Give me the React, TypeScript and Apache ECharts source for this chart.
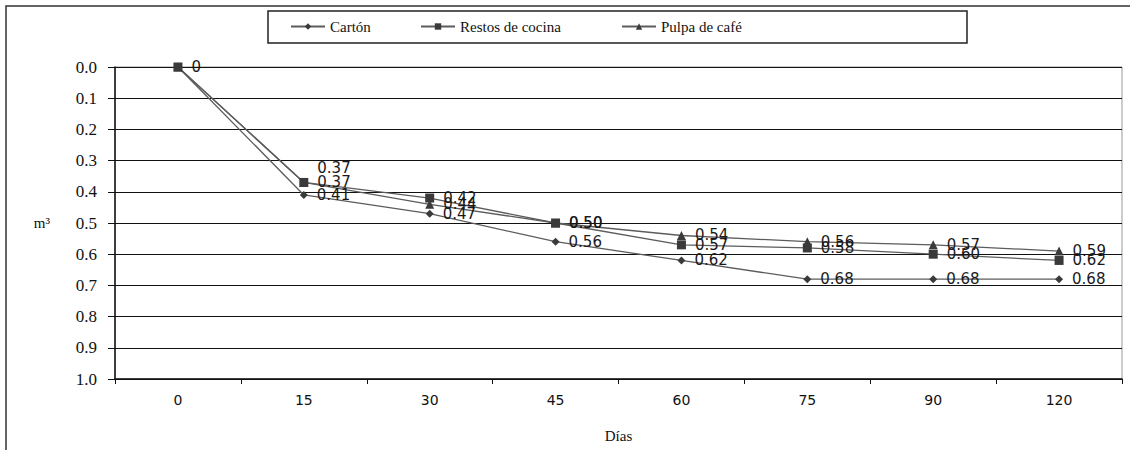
import React, { useEffect, useRef } from "react";
import * as echarts from "echarts";

const days = ["0", "15", "30", "45", "60", "75", "90", "120"];
const carton = [0, 0.41, 0.47, 0.56, 0.62, 0.68, 0.68, 0.68];
const restos = [0, 0.37, 0.42, 0.5, 0.57, 0.58, 0.6, 0.62];
const pulpa = [0, 0.37, 0.44, 0.5, 0.54, 0.56, 0.57, 0.59];
const seriesNames = ["Cartón", "Restos de cocina", "Pulpa de café"];

const fmt = (v: number) => (v === 0 ? "0" : v.toFixed(2));
const SERIF = "serif";
const SANS = "DejaVu Sans";

export default function App() {
  const ref = useRef<HTMLDivElement>(null);
  useEffect(() => {
    if (!ref.current) return;
    const chart = echarts.init(ref.current, undefined, { renderer: "svg" });
    const labelBase = {
      show: true,
      position: "right",
      distance: 9,
      fontFamily: SANS,
      fontSize: 15,
      color: "#1a1a1a",
      formatter: (p: any) => fmt(p.value),
    };
    const mk = (
      name: string,
      vals: number[],
      symbol: string,
      size: number,
      showZero: boolean,
      offsets: Record<number, number[]>
    ) => ({
      name,
      type: "line",
      symbol,
      symbolSize: size,
      lineStyle: { color: "#5c5c5c", width: 1.3 },
      itemStyle: { color: "#3a3a3a" },
      label: labelBase,
      data: vals.map((v, i) => {
        const item: any = { value: v };
        if (i === 0 && !showZero) item.label = { show: false };
        if (offsets[i]) item.label = { offset: offsets[i] };
        return item;
      }),
    });
    const legendText = {
      fontFamily: "Times New Roman",
      fontSize: 15,
      color: "#111",
    };
    const legendAt = (name: string, left: number) => ({
      data: [name],
      left,
      top: 19,
      padding: 0,
      itemWidth: 34,
      itemHeight: 8,
      selectedMode: false,
      textStyle: legendText,
    });
    chart.setOption({
      animation: false,
      backgroundColor: "#fff",
      textStyle: { fontFamily: SERIF },
      graphic: [
        {
          type: "rect",
          z: -10,
          shape: { x: 6, y: 6, width: 1300, height: 600 },
          style: { fill: "none", stroke: "#333", lineWidth: 1.5 },
        },
        {
          type: "rect",
          shape: { x: 268, y: 11, width: 699, height: 32 },
          style: { fill: "none", stroke: "#222", lineWidth: 1.5 },
        },
      ],
      legend: [
        legendAt(seriesNames[0], 290),
        legendAt(seriesNames[1], 420),
        legendAt(seriesNames[2], 621),
      ],
      grid: {
        left: 115,
        right: 8,
        top: 67,
        bottom: 71,
        show: true,
        borderColor: "#999",
        borderWidth: 1,
      },
      xAxis: {
        type: "category",
        data: days,
        boundaryGap: true,
        name: "Días",
        nameLocation: "middle",
        nameGap: 49,
        nameTextStyle: { fontFamily: SERIF, fontSize: 15, color: "#111" },
        axisLine: { onZero: false, lineStyle: { color: "#111", width: 1.5 } },
        axisTick: { show: true, length: 5, interval: 0, lineStyle: { color: "#111" } },
        axisLabel: {
          fontFamily: SANS,
          fontSize: 14,
          color: "#111",
          margin: 14,
          interval: 0,
        },
        splitLine: { show: false },
      },
      yAxis: {
        type: "value",
        inverse: true,
        min: 0,
        max: 1,
        interval: 0.1,
        name: "m³",
        nameLocation: "middle",
        nameRotate: 0,
        nameGap: 65,
        nameTextStyle: { fontFamily: SERIF, fontSize: 15, color: "#111" },
        axisLine: { show: true, lineStyle: { color: "#111", width: 1.5 } },
        axisTick: { show: true, length: 7, lineStyle: { color: "#111" } },
        axisLabel: {
          fontFamily: SERIF,
          fontSize: 17,
          color: "#111",
          margin: 18,
          formatter: (v: number) => v.toFixed(1),
        },
        splitLine: { show: true, lineStyle: { color: "#111", width: 1 } },
      },
      series: [
        mk(seriesNames[0], carton, "diamond", 8, false, {}),
        mk(seriesNames[1], restos, "rect", 9, true, {}),
        mk(seriesNames[2], pulpa, "triangle", 9, false, { 1: [0, -14] }),
      ],
    });
    return () => chart.dispose();
  }, []);
  return (
    <div
      ref={ref}
      style={{ position: "fixed", left: 0, top: 0, width: 1130, height: 450 }}
    />
  );
}
